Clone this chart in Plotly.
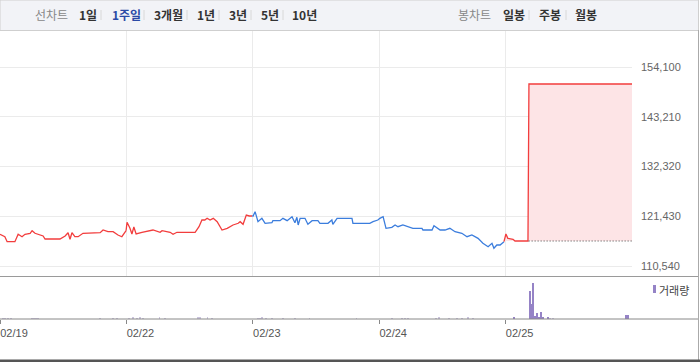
import plotly.graph_objects as go

W, H = 700, 362

def px(x):
    return x / W

def py(y):
    return 1 - y / H

# ---------------- data ----------------
days = ["02/19", "02/22", "02/23", "02/24", "02/25"]
day_dir = ["up", "up", "down", "down", "up"]
session_minutes = 390

min_0219 = [0, 15, 22, 46, 56, 68, 77, 93, 99, 108, 133, 139, 185, 201, 210, 216, 222, 231, 241, 256,
            309, 318, 333, 349, 364, 376, 389]
prc_0219 = [117480, 116950, 115860, 115860, 117480, 116950, 117480, 117700, 118270, 117700, 117110,
            116450, 116450, 117110, 117830, 116390, 117830, 116950, 116950, 117700, 117830, 118420,
            118050, 118050, 117330, 116950, 118270]

min_0222 = [2, 11, 17, 23, 30, 48, 82, 104, 110, 135, 144, 156, 212, 224, 233, 242, 249, 258, 268, 280,
            295, 311, 329, 345, 351, 360, 370, 379, 388]
prc_0222 = [120110, 118790, 117550, 119080, 117550, 117920, 118420, 117920, 118270, 117920, 117480,
            117920, 117920, 119140, 120610, 120610, 120980, 120610, 120980, 120240, 118420, 118790,
            119520, 119890, 120240, 119670, 121700, 121490, 121490]

min_0223 = [1, 7, 16, 28, 38, 59, 62, 84, 93, 106, 121, 130, 136, 140, 146, 161, 170, 183, 201, 207,
            232, 244, 247, 260, 306, 309, 361, 371, 386]
prc_0223 = [121490, 122430, 120240, 120980, 119890, 120020, 120460, 120460, 120980, 120460, 121330,
            120020, 121200, 119520, 120980, 120980, 119670, 120460, 120460, 119890, 119890, 120610,
            119670, 120980, 120980, 119890, 119890, 120240, 120610]

min_0224 = [2, 12, 21, 39, 49, 58, 73, 104, 132, 135, 163, 169, 188, 203, 218, 234, 255, 271, 286, 305,
            320, 336, 348, 354, 363, 373, 385]
prc_0224 = [120980, 121330, 118790, 119010, 119520, 119140, 119520, 118790, 118790, 118420, 118420,
            119360, 118420, 118420, 118790, 118050, 117700, 116950, 117330, 116600, 115510, 114770,
            115510, 114420, 115140, 115140, 115860]

min_0225 = [1, 7, 23, 29, 69, 72, 390]
prc_0225 = [117550, 116600, 116390, 116010, 116010, 150380, 150380]

prev_close_0225 = 116010
prev_close_from_min = 23

day_minutes = [min_0219, min_0222, min_0223, min_0224, min_0225]
day_prices = [prc_0219, prc_0222, prc_0223, prc_0224, prc_0225]

price_ticks = [110540, 121430, 132320, 143210, 154100]

# volume: (day index, minute, volume)
vol_day = [0, 0, 0, 0, 0, 0, 0, 0, 0, 0, 0, 1, 1, 1, 1, 1, 1, 1, 1, 1, 1, 1, 2, 2, 2, 2, 2, 2, 2, 2, 2,
           3, 3, 3, 3, 3, 3, 3, 3, 3, 3, 3,
           4, 4, 4, 4, 4, 4, 4, 4, 4, 4, 4, 4, 4, 4, 4]
vol_min = [9, 15, 25, 34, 99, 105, 111, 117, 309, 349, 361, 8, 21, 33, 43, 52, 102, 120, 220, 228, 250, 265,
           15, 22, 28, 40, 60, 93, 130, 175, 320,
           40, 70, 80, 90, 175, 185, 215, 240, 255, 275, 290,
           26, 75, 81, 85, 90, 96, 99, 102, 109, 115, 131, 138, 147, 371, 378]
vol_val = [900, 900, 900, 900, 900, 900, 900, 900, 900, 900, 900, 900, 1300, 900, 1300, 900, 1200, 900, 1800,
           1800, 1300, 900,
           900, 900, 1200, 900, 900, 900, 900, 900, 900,
           900, 900, 900, 900, 900, 1500, 900, 900, 900, 1200, 900,
           1200, 28000, 15000, 36000, 3000, 6000, 2000, 2000, 7000, 1300, 2000, 1000, 1000, 4000, 4000]

# ---------------- style ----------------
UP = "#f23d3d"
DOWN = "#3b7ddd"
VOL = "#9583c6"
VOL_LIGHT = "#cbc4de"
GRID = "#ebebeb"

def xpos(d, m):
    return d * session_minutes + m

fig = go.Figure()

# fill for the last day between prev close and price
last = len(days) - 1
fx = [xpos(last, m) for m in min_0225]
fig.add_trace(go.Scatter(x=fx, y=[prev_close_0225] * len(fx), mode="lines",
                         line=dict(width=0), hoverinfo="skip", showlegend=False))
fig.add_trace(go.Scatter(x=fx, y=prc_0225, mode="lines", line=dict(width=0),
                         fill="tonexty", fillcolor="#fde4e6", hoverinfo="skip", showlegend=False))

# price lines per day
for d in range(len(days)):
    xs = [xpos(d, m) for m in day_minutes[d]]
    ys = list(day_prices[d])
    if d > 0:
        xs = [xpos(d - 1, day_minutes[d - 1][-1])] + xs
        ys = [day_prices[d - 1][-1]] + ys
    col = UP if day_dir[d] == "up" else DOWN
    fig.add_trace(go.Scatter(x=xs, y=ys, mode="lines", line=dict(color=col, width=1.3),
                             showlegend=False, xaxis="x", yaxis="y"))

# prev close dotted line (from where the price returns to it)
fig.add_trace(go.Scatter(x=[xpos(last, 69) + 2, xpos(last, session_minutes)],
                         y=[prev_close_0225, prev_close_0225], mode="lines",
                         line=dict(color="#444444", width=1, dash="1px,2px"),
                         hoverinfo="skip", showlegend=False))

# volume
vol_colors = [VOL if (d == last and v > 1100) else VOL_LIGHT for d, v in zip(vol_day, vol_val)]
fig.add_trace(go.Bar(x=[xpos(d, m) for d, m in zip(vol_day, vol_min)], y=vol_val,
                     width=2.6, marker=dict(color=vol_colors, line=dict(width=0)),
                     showlegend=False, xaxis="x2", yaxis="y2"))

x_end = 632
fig.update_layout(
    width=W, height=H,
    margin=dict(l=0, r=0, t=0, b=0),
    paper_bgcolor="white", plot_bgcolor="white",
    font=dict(family="Liberation Sans, Arial, sans-serif", size=11, color="#666666"),
    bargap=0,
    xaxis=dict(domain=[0, px(x_end)], range=[0, session_minutes * len(days)],
               tickvals=[session_minutes * i for i in range(1, len(days))],
               showgrid=True, gridcolor=GRID, gridwidth=1, showticklabels=False,
               ticks="", zeroline=False, showline=False, anchor="y"),
    yaxis=dict(domain=[py(276), py(31)], range=[108351, 161980],
               tickvals=price_ticks, ticktext=[f"{v:,}" for v in price_ticks],
               side="right", showgrid=True, gridcolor=GRID, gridwidth=1,
               zeroline=False, showline=False, ticks="", ticklabelstandoff=8,
               tickfont=dict(size=11, color="#666666"), anchor="x"),
    xaxis2=dict(domain=[0, px(x_end)], range=[0, session_minutes * len(days)],
                tickvals=[session_minutes * i for i in range(len(days))], ticktext=days,
                showgrid=False, ticks="outside", ticklen=4, tickcolor="#888888",
                ticklabelshift=14, tickfont=dict(size=11, color="#555555"),
                zeroline=False, showline=False, anchor="y2"),
    yaxis2=dict(domain=[py(319), py(277)], range=[0, 42000], showgrid=False,
                showticklabels=False, zeroline=False, showline=False, ticks="", anchor="x2"),
)

shapes = []
# top bar
shapes.append(dict(type="rect", xref="paper", yref="paper", x0=px(0), x1=px(698.5), y0=py(30.5), y1=py(0),
                   fillcolor="#f2f3f7", line=dict(color="#cfcfcf", width=1), layer="below"))
for sx in [101, 144, 187, 219, 251, 283, 529, 566]:
    shapes.append(dict(type="line", xref="paper", yref="paper", x0=px(sx), x1=px(sx), y0=py(10), y1=py(20),
                       line=dict(color="#d8d8d8", width=1)))
# panel separator and volume axis line
shapes.append(dict(type="line", xref="paper", yref="paper", x0=0, x1=px(699), y0=py(276.5), y1=py(276.5),
                   line=dict(color="#9a9a9a", width=1)))
shapes.append(dict(type="line", xref="paper", yref="paper", x0=0, x1=px(699), y0=py(319), y1=py(319),
                   line=dict(color="#888888", width=1)))
# right border
shapes.append(dict(type="line", xref="paper", yref="paper", x0=px(698.5), x1=px(698.5), y0=py(30), y1=py(360),
                   line=dict(color="#aaaaaa", width=1)))
# bottom dark border
shapes.append(dict(type="rect", xref="paper", yref="paper", x0=0, x1=1, y0=py(362), y1=py(359.5),
                   fillcolor="#555555", line=dict(width=0)))
# volume legend marker
shapes.append(dict(type="rect", xref="paper", yref="paper", x0=px(653), x1=px(656), y0=py(293), y1=py(285),
                   fillcolor=VOL, line=dict(width=0)))
fig.update_layout(shapes=shapes)

KFONT = "Noto Sans CJK KR, sans-serif"
annots = []
menu_left = [("선차트", 33, "#888888", False), ("1일", 77, "#333333", True), ("1주일", 110, "#2b4aa6", True),
             ("3개월", 152, "#333333", True), ("1년", 195, "#333333", True), ("3년", 227, "#333333", True),
             ("5년", 259, "#333333", True), ("10년", 290, "#333333", True),
             ("봉차트", 456, "#888888", False), ("일봉", 501, "#333333", True), ("주봉", 537, "#333333", True),
             ("월봉", 573, "#333333", True)]
for txt, x, col, bold in menu_left:
    annots.append(dict(text=f"<b>{txt}</b>" if bold else txt, x=px(x), y=py(15), xref="paper", yref="paper",
                       xanchor="left", yanchor="middle", showarrow=False,
                       font=dict(family=KFONT, size=12, color=col)))
annots.append(dict(text="거래량", x=px(657), y=py(290), xref="paper", yref="paper", xanchor="left",
                   yanchor="middle", showarrow=False, font=dict(family=KFONT, size=11, color="#444444")))
fig.update_layout(annotations=annots)

fig.write_html("out.html")
